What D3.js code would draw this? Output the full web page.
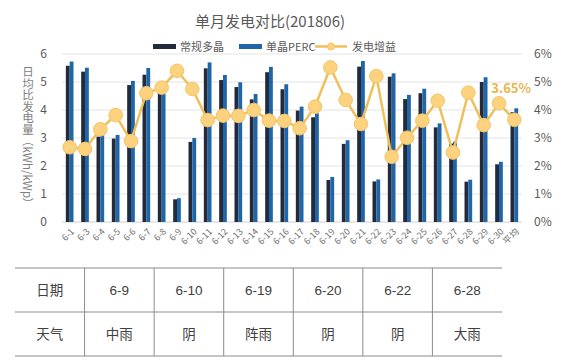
<!DOCTYPE html>
<html>
<head>
<meta charset="utf-8">
<script src="https://cdn.jsdelivr.net/npm/d3@7"></script>
<style>
  body { margin: 0; background: #fff; }
  text { font-family: "Noto Sans CJK SC", "Noto Sans", sans-serif; }
  .tbl text { font-family: "Liberation Sans", "Noto Sans CJK SC", sans-serif; }
</style>
</head>
<body>
<div class="chart"></div>
<script>
// categories and series
const days = ['6-1','6-3','6-4','6-5','6-6','6-7','6-8','6-9','6-10','6-11','6-12','6-13','6-14','6-15',
  '6-16','6-17','6-18','6-19','6-20','6-21','6-22','6-23','6-24','6-25','6-26','6-27','6-28','6-29','6-30','平均'];
const poly = [5.58,5.37,3.05,2.98,4.89,5.26,4.65,0.81,2.86,5.49,5.07,4.82,4.38,5.35,
  4.74,3.98,3.74,1.50,2.79,5.55,1.45,5.19,4.39,4.60,3.38,2.80,1.44,5.00,2.06,3.92];
const perc = [5.73,5.51,3.13,3.11,5.04,5.50,4.80,0.85,3.00,5.70,5.25,4.99,4.57,5.54,
  4.92,4.12,3.88,1.61,2.92,5.75,1.52,5.31,4.54,4.76,3.52,2.87,1.51,5.17,2.15,4.06];
const gain = [2.67,2.61,3.31,3.82,2.89,4.60,4.80,5.40,4.75,3.64,3.80,3.79,4.00,3.62,
  3.61,3.35,4.12,5.52,4.36,3.50,5.21,2.33,3.01,3.62,4.33,2.48,4.62,3.46,4.24,3.65];
const leftTicks = [0,1,2,3,4,5,6];
const rightTicks = [0,1,2,3,4,5,6];

const tableDates = ['6-9','6-10','6-19','6-20','6-22','6-28'];
const tableWeather = ['中雨','阴','阵雨','阴','阴','大雨'];

const W = 568, H = 361;
const svg = d3.select('.chart').append('svg').attr('width', W).attr('height', H);

const x = d3.scaleBand().domain(days).range([62, 522]).paddingInner(0.5).paddingOuter(0.25);
const sub = d3.scaleBand().domain(['poly','perc']).range([0, x.bandwidth()]).padding(0);
const y = d3.scaleLinear().domain([0, 6]).range([222, 54]);
const y2 = d3.scaleLinear().domain([0, 6]).range([222, 54]);

// grid
svg.append('g').selectAll('line').data(leftTicks).enter().append('line')
  .attr('x1', 62).attr('x2', 522)
  .attr('y1', d => y(d)).attr('y2', d => y(d))
  .attr('stroke', d => d === 0 ? '#d0d0d0' : '#e4e4e4').attr('stroke-width', 1);

// axes labels
svg.append('g').selectAll('text').data(leftTicks).enter().append('text')
  .attr('x', 47).attr('y', d => y(d)).attr('dy', '0.35em')
  .attr('text-anchor', 'end').attr('font-size', 12).attr('fill', '#595959')
  .text(d => d);
svg.append('g').selectAll('text').data(rightTicks).enter().append('text')
  .attr('x', 534).attr('y', d => y2(d)).attr('dy', '0.35em')
  .attr('text-anchor', 'start').attr('font-size', 12).attr('fill', '#595959')
  .text(d => d + '%');

// y title, vertical writing
svg.append('text').attr('x', 28).attr('y', 66)
  .style('writing-mode', 'vertical-rl')
  .attr('font-size', 11.5).attr('fill', '#7f7f7f')
  .text('日均比发电量（kWh/kWp）');

// bars
const g = svg.append('g').selectAll('g').data(days).enter().append('g')
  .attr('transform', d => 'translate(' + x(d) + ',0)');
g.append('rect')
  .attr('x', sub('poly')).attr('width', sub.bandwidth())
  .attr('y', (d, i) => y(poly[i])).attr('height', (d, i) => y(0) - y(poly[i]))
  .attr('fill', '#232a3b');
g.append('rect')
  .attr('x', sub('perc')).attr('width', sub.bandwidth())
  .attr('y', (d, i) => y(perc[i])).attr('height', (d, i) => y(0) - y(perc[i]))
  .attr('fill', '#1f66a8');

// gain line
const cx = d => x(d) + x.bandwidth() / 2;
const line = d3.line().x((d, i) => cx(days[i])).y(d => y2(d));
svg.append('path').datum(gain).attr('d', line)
  .attr('fill', 'none').attr('stroke', '#efc05a').attr('stroke-width', 2.5);
svg.append('g').selectAll('circle').data(gain).enter().append('circle')
  .attr('cx', (d, i) => cx(days[i])).attr('cy', d => y2(d)).attr('r', 6.8)
  .attr('fill', '#fdd27e').attr('stroke', '#f3c56a').attr('stroke-width', 1);

svg.append('text').attr('x', 531).attr('y', 93).attr('text-anchor', 'end')
  .attr('font-size', 13).attr('font-weight', 'bold').attr('fill', '#e9b64c')
  .text(gain[gain.length - 1].toFixed(2) + '%');

// x labels
svg.append('g').selectAll('text').data(days).enter().append('text')
  .attr('transform', d => 'translate(' + (cx(d) + 3) + ',230) rotate(-45)')
  .attr('text-anchor', 'end').attr('font-size', 9).attr('fill', '#6f6f6f')
  .attr('dy', '0.35em')
  .text(d => d);

// title
svg.append('text').attr('x', 270).attr('y', 27).attr('text-anchor', 'middle')
  .attr('font-size', 15).attr('fill', '#595959').text('单月发电对比(201806)');

// legend
const lg = svg.append('g').attr('font-size', 11).attr('fill', '#595959');
lg.append('rect').attr('x', 153).attr('y', 44).attr('width', 23).attr('height', 5).attr('fill', '#232a3b');
lg.append('text').attr('x', 180).attr('y', 47).attr('dy', '0.35em').text('常规多晶');
lg.append('rect').attr('x', 239).attr('y', 44).attr('width', 23).attr('height', 5).attr('fill', '#1f66a8');
lg.append('text').attr('x', 266).attr('y', 47).attr('dy', '0.35em').text('单晶PERC');
lg.append('line').attr('x1', 315).attr('x2', 347).attr('y1', 46.5).attr('y2', 46.5)
  .attr('stroke', '#efc05a').attr('stroke-width', 2.5);
lg.append('circle').attr('cx', 331).attr('cy', 46.5).attr('r', 3.5).attr('fill', '#fdd27e').attr('stroke', '#f3c56a');
lg.append('text').attr('x', 352).attr('y', 47).attr('dy', '0.35em').text('发电增益');

// table
const tx = d3.scaleBand().domain(d3.range(7)).range([15, 502]);
const rows = [['日期'].concat(tableDates), ['天气'].concat(tableWeather)];
const rowY = [268, 312, 356];
const tg = svg.append('g').attr('class', 'tbl');
rowY.forEach(yy => {
  tg.append('line').attr('x1', 15).attr('x2', 502).attr('y1', yy).attr('y2', yy)
    .attr('stroke', '#8c8c8c').attr('stroke-width', 1.2);
});
d3.range(1, 7).forEach(c => {
  tg.append('line').attr('x1', tx(c)).attr('x2', tx(c)).attr('y1', rowY[0]).attr('y2', rowY[2])
    .attr('stroke', '#8c8c8c').attr('stroke-width', 1);
});
rows.forEach((r, ri) => {
  tg.selectAll('.r' + ri).data(r).enter().append('text')
    .attr('x', (d, i) => tx(i) + tx.bandwidth() / 2)
    .attr('y', (rowY[ri] + rowY[ri + 1]) / 2).attr('dy', '0.35em')
    .attr('text-anchor', 'middle').attr('font-size', 13.5).attr('fill', '#404040')
    .text(d => d);
});
</script>
</body>
</html>
